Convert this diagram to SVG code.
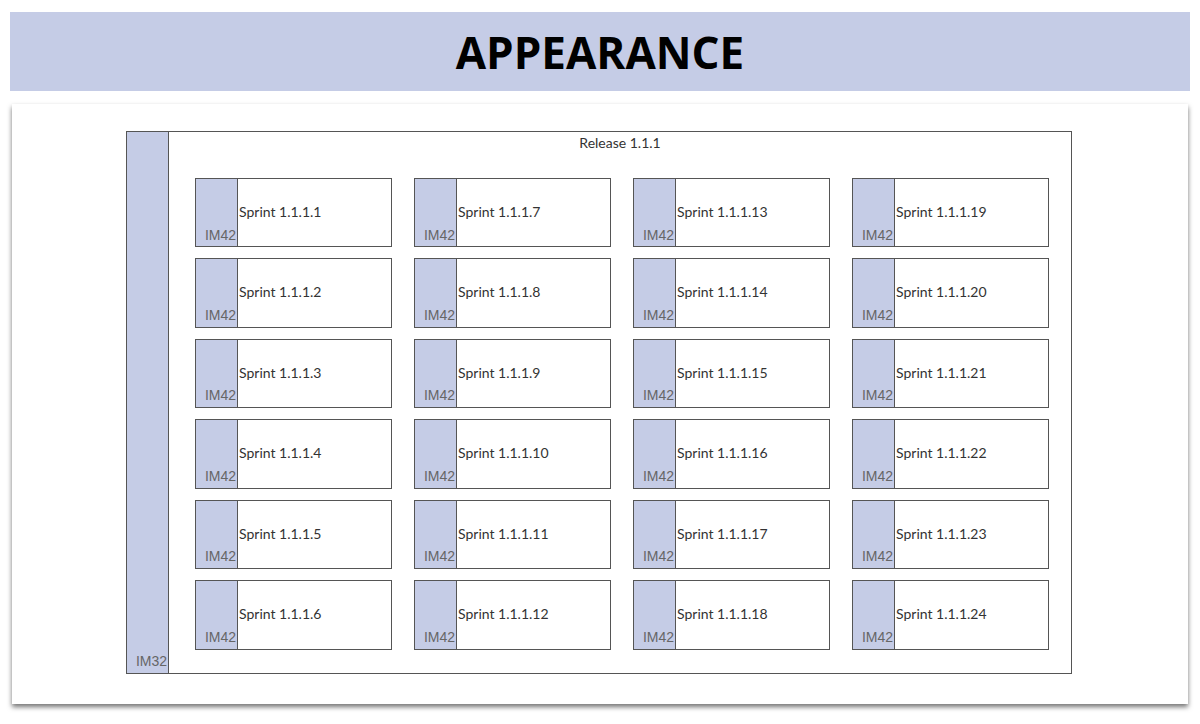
<svg xmlns="http://www.w3.org/2000/svg" width="1200" height="724" viewBox="0 0 1200 724">
<defs>
<filter id="sh" x="-5%" y="-5%" width="110%" height="110%"><feDropShadow dx="0" dy="3" stdDeviation="2.5" flood-color="#000" flood-opacity="0.55"/></filter>
</defs>
<style>
.bx{fill:#fff;stroke:#555;stroke-width:1}
.st{fill:#c5cce6;stroke:#555;stroke-width:1}
.sp{font-family:Lato,"Liberation Sans",sans-serif;font-size:14px;fill:#333}
.im{font-family:"Liberation Sans",Arial,sans-serif;font-size:14px;fill:#666;text-anchor:end}
</style>
<rect width="1200" height="724" fill="#fff"/>
<rect x="10" y="12" width="1180" height="79" fill="#c5cce6"/>
<text x="600" y="69" text-anchor="middle" font-family="'Open Sans',Lato,sans-serif" font-weight="bold" font-size="44" fill="#000">APPEARANCE</text>
<rect x="12" y="104" width="1176" height="600" fill="#fff" filter="url(#sh)"/>
<g id="release">
<rect class="bx" x="126.5" y="131.5" width="945" height="542"/>
<rect class="st" x="126.5" y="131.5" width="42" height="542"/>
<text x="620" y="148" text-anchor="middle" class="sp">Release 1.1.1</text>
<text x="167" y="666" class="im">IM32</text>
</g>
<g id="sprints">
<g id="s1"><rect class="bx" x="195.5" y="178.5" width="196" height="68"/><rect class="st" x="195.5" y="178.5" width="42" height="68"/><text x="239" y="217" class="sp">Sprint 1.1.1.1</text><text x="236" y="240" class="im">IM42</text></g>
<g id="s2"><rect class="bx" x="195.5" y="258.5" width="196" height="69"/><rect class="st" x="195.5" y="258.5" width="42" height="69"/><text x="239" y="297" class="sp">Sprint 1.1.1.2</text><text x="236" y="320" class="im">IM42</text></g>
<g id="s3"><rect class="bx" x="195.5" y="339.5" width="196" height="68"/><rect class="st" x="195.5" y="339.5" width="42" height="68"/><text x="239" y="378" class="sp">Sprint 1.1.1.3</text><text x="236" y="400" class="im">IM42</text></g>
<g id="s4"><rect class="bx" x="195.5" y="419.5" width="196" height="69"/><rect class="st" x="195.5" y="419.5" width="42" height="69"/><text x="239" y="458" class="sp">Sprint 1.1.1.4</text><text x="236" y="481" class="im">IM42</text></g>
<g id="s5"><rect class="bx" x="195.5" y="500.5" width="196" height="68"/><rect class="st" x="195.5" y="500.5" width="42" height="68"/><text x="239" y="539" class="sp">Sprint 1.1.1.5</text><text x="236" y="561" class="im">IM42</text></g>
<g id="s6"><rect class="bx" x="195.5" y="580.5" width="196" height="69"/><rect class="st" x="195.5" y="580.5" width="42" height="69"/><text x="239" y="619" class="sp">Sprint 1.1.1.6</text><text x="236" y="642" class="im">IM42</text></g>
<g id="s7"><rect class="bx" x="414.5" y="178.5" width="196" height="68"/><rect class="st" x="414.5" y="178.5" width="42" height="68"/><text x="458" y="217" class="sp">Sprint 1.1.1.7</text><text x="455" y="240" class="im">IM42</text></g>
<g id="s8"><rect class="bx" x="414.5" y="258.5" width="196" height="69"/><rect class="st" x="414.5" y="258.5" width="42" height="69"/><text x="458" y="297" class="sp">Sprint 1.1.1.8</text><text x="455" y="320" class="im">IM42</text></g>
<g id="s9"><rect class="bx" x="414.5" y="339.5" width="196" height="68"/><rect class="st" x="414.5" y="339.5" width="42" height="68"/><text x="458" y="378" class="sp">Sprint 1.1.1.9</text><text x="455" y="400" class="im">IM42</text></g>
<g id="s10"><rect class="bx" x="414.5" y="419.5" width="196" height="69"/><rect class="st" x="414.5" y="419.5" width="42" height="69"/><text x="458" y="458" class="sp">Sprint 1.1.1.10</text><text x="455" y="481" class="im">IM42</text></g>
<g id="s11"><rect class="bx" x="414.5" y="500.5" width="196" height="68"/><rect class="st" x="414.5" y="500.5" width="42" height="68"/><text x="458" y="539" class="sp">Sprint 1.1.1.11</text><text x="455" y="561" class="im">IM42</text></g>
<g id="s12"><rect class="bx" x="414.5" y="580.5" width="196" height="69"/><rect class="st" x="414.5" y="580.5" width="42" height="69"/><text x="458" y="619" class="sp">Sprint 1.1.1.12</text><text x="455" y="642" class="im">IM42</text></g>
<g id="s13"><rect class="bx" x="633.5" y="178.5" width="196" height="68"/><rect class="st" x="633.5" y="178.5" width="42" height="68"/><text x="677" y="217" class="sp">Sprint 1.1.1.13</text><text x="674" y="240" class="im">IM42</text></g>
<g id="s14"><rect class="bx" x="633.5" y="258.5" width="196" height="69"/><rect class="st" x="633.5" y="258.5" width="42" height="69"/><text x="677" y="297" class="sp">Sprint 1.1.1.14</text><text x="674" y="320" class="im">IM42</text></g>
<g id="s15"><rect class="bx" x="633.5" y="339.5" width="196" height="68"/><rect class="st" x="633.5" y="339.5" width="42" height="68"/><text x="677" y="378" class="sp">Sprint 1.1.1.15</text><text x="674" y="400" class="im">IM42</text></g>
<g id="s16"><rect class="bx" x="633.5" y="419.5" width="196" height="69"/><rect class="st" x="633.5" y="419.5" width="42" height="69"/><text x="677" y="458" class="sp">Sprint 1.1.1.16</text><text x="674" y="481" class="im">IM42</text></g>
<g id="s17"><rect class="bx" x="633.5" y="500.5" width="196" height="68"/><rect class="st" x="633.5" y="500.5" width="42" height="68"/><text x="677" y="539" class="sp">Sprint 1.1.1.17</text><text x="674" y="561" class="im">IM42</text></g>
<g id="s18"><rect class="bx" x="633.5" y="580.5" width="196" height="69"/><rect class="st" x="633.5" y="580.5" width="42" height="69"/><text x="677" y="619" class="sp">Sprint 1.1.1.18</text><text x="674" y="642" class="im">IM42</text></g>
<g id="s19"><rect class="bx" x="852.5" y="178.5" width="196" height="68"/><rect class="st" x="852.5" y="178.5" width="42" height="68"/><text x="896" y="217" class="sp">Sprint 1.1.1.19</text><text x="893" y="240" class="im">IM42</text></g>
<g id="s20"><rect class="bx" x="852.5" y="258.5" width="196" height="69"/><rect class="st" x="852.5" y="258.5" width="42" height="69"/><text x="896" y="297" class="sp">Sprint 1.1.1.20</text><text x="893" y="320" class="im">IM42</text></g>
<g id="s21"><rect class="bx" x="852.5" y="339.5" width="196" height="68"/><rect class="st" x="852.5" y="339.5" width="42" height="68"/><text x="896" y="378" class="sp">Sprint 1.1.1.21</text><text x="893" y="400" class="im">IM42</text></g>
<g id="s22"><rect class="bx" x="852.5" y="419.5" width="196" height="69"/><rect class="st" x="852.5" y="419.5" width="42" height="69"/><text x="896" y="458" class="sp">Sprint 1.1.1.22</text><text x="893" y="481" class="im">IM42</text></g>
<g id="s23"><rect class="bx" x="852.5" y="500.5" width="196" height="68"/><rect class="st" x="852.5" y="500.5" width="42" height="68"/><text x="896" y="539" class="sp">Sprint 1.1.1.23</text><text x="893" y="561" class="im">IM42</text></g>
<g id="s24"><rect class="bx" x="852.5" y="580.5" width="196" height="69"/><rect class="st" x="852.5" y="580.5" width="42" height="69"/><text x="896" y="619" class="sp">Sprint 1.1.1.24</text><text x="893" y="642" class="im">IM42</text></g>
</g>
<g id="connectors"/>
</svg>
